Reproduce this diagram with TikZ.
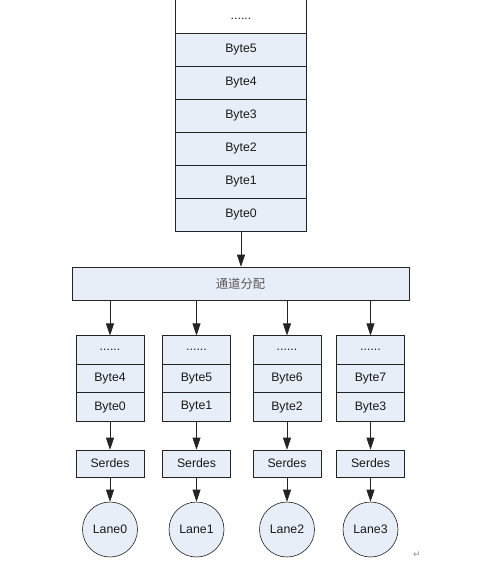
\documentclass[tikz,border=0pt]{standalone}
\usepackage{fontspec}
\setmainfont{Liberation Sans}
\newfontfamily\cjk{Noto Sans CJK SC}
\newfontfamily\symb{DejaVu Sans}
\usepackage{tikz}
\usetikzlibrary{arrows.meta}
\definecolor{cellfill}{RGB}{232,238,247}
\definecolor{edge}{RGB}{35,35,35}
\tikzset{
	cell/.style={draw=edge, fill=cellfill, rectangle, inner sep=0pt, minimum width=#1},
	bigcell/.style={cell=131pt, minimum height=33pt},
	smallcell/.style={cell=68pt, minimum height=28.5pt},
	lane/.style={draw=edge, fill=cellfill, circle, inner sep=0pt, minimum size=55pt},
	feed/.style={draw=edge, -{Triangle[length=12pt,width=8pt]}}
}

\begin{document}
\begin{tikzpicture}[x=1pt, y=-1pt, line width=0.6pt, font=\fontsize{12.3}{14}\selectfont, text=black!90]
		%%%%% START %%%%%
		\useasboundingbox (0, 0) rectangle (497, 566);
		
		% input stack
		\draw[edge] (175.5, 0) -- (175.5, 33);
		\draw[edge] (306.5, 0) -- (306.5, 33);
		\node at (241, 19) {......};
		\node[bigcell] (b5) at (241, 49.5) {Byte5};
		\node[bigcell] (b4) at (241, 82.5) {Byte4};
		\node[bigcell] (b3) at (241, 115.5) {Byte3};
		\node[bigcell] (b2) at (241, 148.5) {Byte2};
		\node[bigcell] (b1) at (241, 181.5) {Byte1};
		\node[bigcell] (b0) at (241, 214.5) {Byte0};
		
		\node[cell=337pt, minimum height=33pt] (dist) at (240.5, 283.5) {\cjk\color{black!65}通道分配};
		\draw[feed] (b0) -- (b0 |- dist.north);
		
		% lane 0
		\node[smallcell] (q0) at (110, 350) {......};
		\node[smallcell] (s4) at (110, 378.5) {Byte4};
		\node[smallcell] (s0) at (110, 407) {Byte0};
		\node[cell=68pt, minimum height=27pt] (sd0) at (110, 463.5) {Serdes};
		\node[lane] (l0) at (110, 529.5) {Lane0};
		
		% lane 1
		\node[smallcell] (q1) at (196.5, 350) {......};
		\node[smallcell] (s5) at (196.5, 378.5) {Byte5};
		\node[smallcell] (s1) at (196.5, 407) {Byte1};
		\node[cell=68pt, minimum height=27pt] (sd1) at (196.5, 463.5) {Serdes};
		\node[lane] (l1) at (196.5, 529.5) {Lane1};
		
		% lane 2
		\node[smallcell] (q2) at (287, 350) {......};
		\node[smallcell] (s6) at (287, 378.5) {Byte6};
		\node[smallcell] (s2) at (287, 407) {Byte2};
		\node[cell=68pt, minimum height=27pt] (sd2) at (287, 463.5) {Serdes};
		\node[lane] (l2) at (287, 529.5) {Lane2};
		
		% lane 3
		\node[smallcell] (q3) at (370.5, 350) {......};
		\node[smallcell] (s7) at (370.5, 378.5) {Byte7};
		\node[smallcell] (s3) at (370.5, 407) {Byte3};
		\node[cell=68pt, minimum height=27pt] (sd3) at (370.5, 463.5) {Serdes};
		\node[lane] (l3) at (370.5, 529.5) {Lane3};
		
		\draw[feed] (dist.south -| q0) -- (q0);
		\draw[feed] (dist.south -| q1) -- (q1);
		\draw[feed] (dist.south -| q2) -- (q2);
		\draw[feed] (dist.south -| q3) -- (q3);
		\draw[feed] (s0) -- (sd0);
		\draw[feed] (s1) -- (sd1);
		\draw[feed] (s2) -- (sd2);
		\draw[feed] (s3) -- (sd3);
		\draw[feed] (sd0) -- (l0);
		\draw[feed] (sd1) -- (l1);
		\draw[feed] (sd2) -- (l2);
		\draw[feed] (sd3) -- (l3);
		
		\node[font=\symb\fontsize{9}{10}\selectfont, text=black!45] (ret) at (417, 555) {↵};
		%%%%% END %%%%%
	\end{tikzpicture}
\end{document}
